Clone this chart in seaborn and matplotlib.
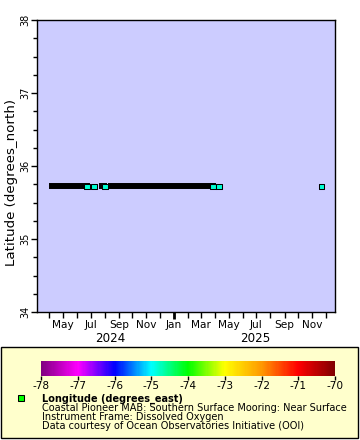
import matplotlib
matplotlib.use("Agg")
import matplotlib.pyplot as plt
import matplotlib.dates as mdates
import matplotlib.ticker as mticker
from matplotlib.colors import LinearSegmentedColormap, Normalize
from matplotlib.cm import ScalarMappable
from matplotlib.patches import Rectangle
from matplotlib.lines import Line2D
import numpy as np
import pandas as pd
import seaborn as sns

# mooring position
latitude = 35.72
longitude = -74.84

# runs of dense (daily) observations -> they show up as a solid black band
run_start = ["2024-04-06", "2024-07-25", "2024-08-16"]
run_end = ["2024-06-22", "2024-07-31", "2025-03-28"]
# observations whose fill colour is visible (end of a run or isolated)
point_time = ["2024-06-23", "2024-07-08", "2024-08-01",
              "2025-03-28", "2025-04-10", "2025-11-21"]

cbar_ticks = [-78, -77, -76, -75, -74, -73, -72, -71, -70]
year_labels = ["2024", "2025"]
year_pos = ["2024-08-14", "2025-06-28"]
legend_lines = ["Coastal Pioneer MAB: Southern Surface Mooring: Near Surface",
                "Instrument Frame: Dissolved Oxygen",
                "Data courtesy of Ocean Observatories Initiative (OOI)"]

rainbow = LinearSegmentedColormap.from_list(
    "erddap_rainbow",
    ["#800080", "#ff00ff", "#0000ff", "#00ffff", "#00ff00",
     "#ffff00", "#ff9900", "#ff0000", "#800000"])
norm = Normalize(-78, -70)

W, H = 360, 440
def fx(px):
    return px / W
def fy(px):
    return 1 - px / H

sns.set_style("ticks")
plt.rcParams["font.family"] = ["DejaVu Sans"]
plt.rcParams.update({"text.color": "black", "axes.labelcolor": "black",
                     "xtick.color": "black", "ytick.color": "black"})

fig = plt.figure(figsize=(W / 100, H / 100), dpi=100)
fig.patch.set_facecolor("white")

# legend panel (drawn first, behind everything)
panel = Rectangle((fx(1), fy(438)), (358 - 1) / W, (438 - 347) / H,
                  transform=fig.transFigure, facecolor="#ffffcc",
                  edgecolor="black", lw=1.0, zorder=-5)
fig.add_artist(panel)

ax = fig.add_axes([fx(37), fy(312), (335 - 37) / W, (312 - 20) / H])
ax.set_facecolor("#ccccff")

# dense runs
for s, e in zip(run_start, run_end):
    ax.plot(pd.to_datetime([s, e]), [latitude, latitude], color="black",
            lw=4.3, solid_capstyle="projecting", zorder=2)

pts = pd.DataFrame({"time": pd.to_datetime(point_time),
                    "lat": latitude, "lon": longitude})
sns.scatterplot(data=pts, x="time", y="lat", hue="lon", palette=rainbow,
                hue_norm=norm, marker="s", s=17, edgecolor="black",
                linewidth=0.75, legend=False, ax=ax, zorder=3)

ax.set_xlim(pd.Timestamp("2024-03-05"), pd.Timestamp("2025-12-21"))
ax.set_ylim(34, 38)
ax.set_xlabel("")
ax.set_ylabel("Latitude (degrees_north)", fontsize=9.6)
ax.yaxis.set_label_coords(-0.064, 0.445)

# x axis: month ticks, January as major tick
ax.xaxis.set_major_locator(mdates.MonthLocator(bymonth=[1]))
ax.xaxis.set_major_formatter(mdates.DateFormatter("%b"))
ax.xaxis.set_minor_locator(mdates.MonthLocator())
ax.xaxis.set_minor_formatter(mticker.FuncFormatter(
    lambda v, p: mdates.num2date(v).strftime("%b") if mdates.num2date(v).month % 2 == 1 else ""))
ax.tick_params(axis="x", which="major", length=5, width=2, labelsize=7.6, pad=1)
ax.tick_params(axis="x", which="minor", length=4, width=1, labelsize=7.6, pad=2)

for lab, pos in zip(year_labels, year_pos):
    ax.text(pd.Timestamp(pos), -0.09, lab, transform=ax.get_xaxis_transform(),
            ha="center", va="center", fontsize=8.6)

# y axis
ax.yaxis.set_major_locator(mticker.MultipleLocator(1))
ax.yaxis.set_minor_locator(mticker.MultipleLocator(0.25))
ax.tick_params(axis="y", which="major", length=4, width=1, labelsize=7, pad=0.5)
ax.tick_params(axis="y", which="minor", length=3, width=1)
for t in ax.get_yticklabels():
    t.set_rotation(90)
    t.set_va("center")

for sp in ax.spines.values():
    sp.set_linewidth(1.0)
    sp.set_color("black")

cax = fig.add_axes([fx(41), fy(376), (335 - 41) / W, 15 / H])
cb = fig.colorbar(ScalarMappable(norm=norm, cmap=rainbow), cax=cax,
                  orientation="horizontal", ticks=cbar_ticks)
cb.outline.set_visible(False)
cax.tick_params(length=3, width=1, labelsize=7.6, pad=0.5)
cax.set_xticklabels([str(t) for t in cbar_ticks])

fig.add_artist(Line2D([fx(21)], [fy(398)], marker="s", markersize=4.3,
                      markerfacecolor="#00ff00", markeredgecolor="black",
                      markeredgewidth=0.75, transform=fig.transFigure))
fig.text(fx(42.5), fy(398.5), "Longitude (degrees_east)", fontsize=7.0,
         fontweight="bold", va="center", ha="left")
for i, line in enumerate(legend_lines):
    fig.text(fx(42.5), fy(408 + 9.2 * i), line, fontsize=7.0, va="center", ha="left")

fig.savefig("out.png", dpi=100)
